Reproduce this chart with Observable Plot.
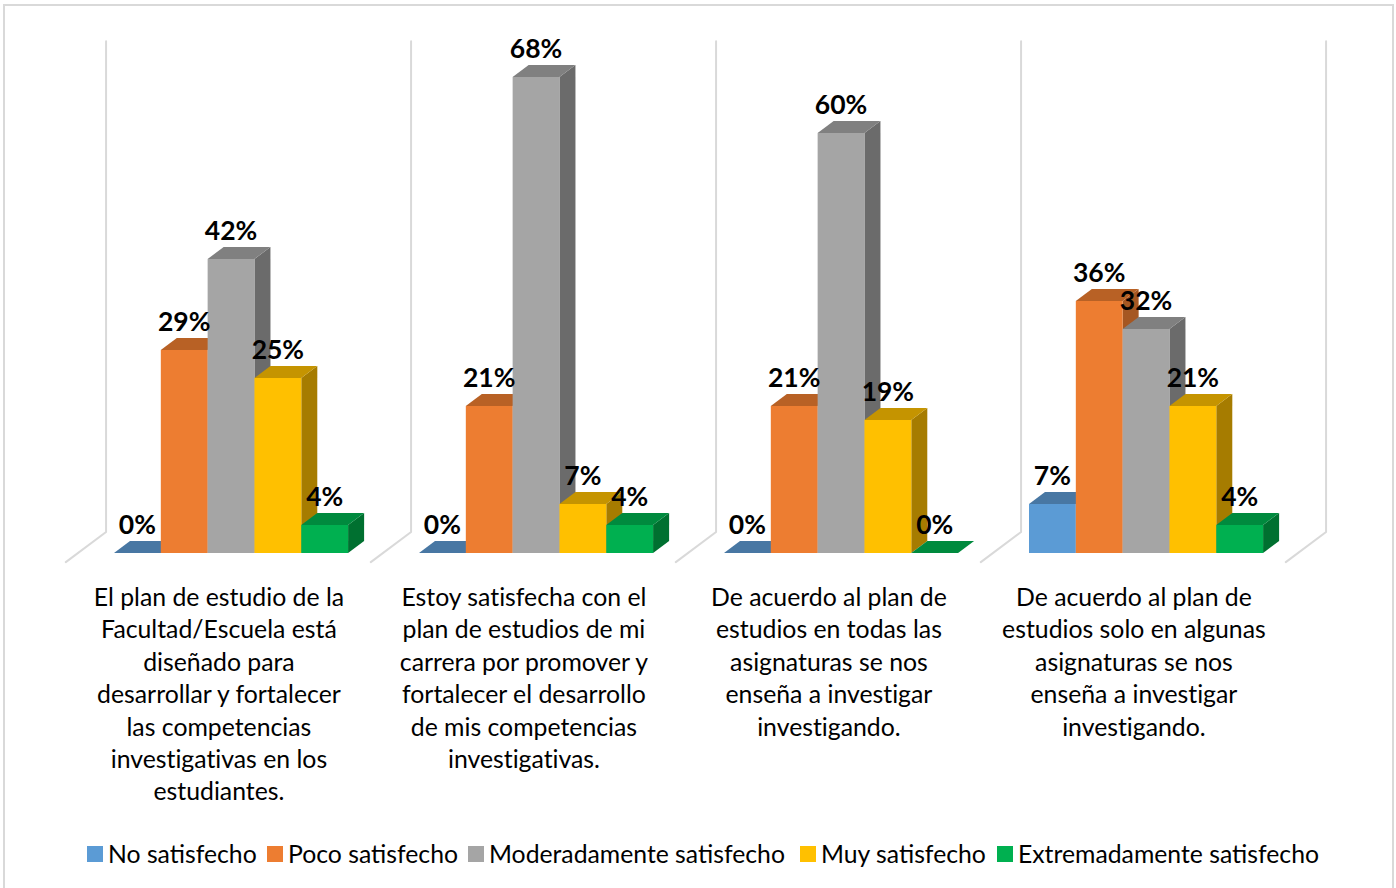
<!DOCTYPE html>
<html lang="es">
<head>
<meta charset="utf-8">
<script src="https://cdn.jsdelivr.net/npm/d3@7"></script>
<script src="https://cdn.jsdelivr.net/npm/@observablehq/plot@0.6"></script>
<style>
  html, body { margin: 0; padding: 0; background: #fff; }
  #frame { position: relative; width: 1396px; height: 888px; overflow: hidden; font-variant-ligatures: none; }
  #border { position: absolute; left: 3px; top: 4px; width: 1387px; height: 900px; border: 2px solid #d9d9d9; }
  #chart { position: absolute; left: 0; top: 0; }
  #chart text { font-variant-ligatures: none; }
  #legend { position: absolute; left: 0; top: 838px; width: 1396px; height: 32px; font: 400 24.75px Lato, sans-serif; color: #000; }
  #legend span.k { position: absolute; top: 8px; width: 16px; height: 16px; }
  #legend span.t { position: absolute; top: 0; line-height: 32px; white-space: nowrap; }
</style>
</head>
<body>
<div id="frame"><div id="border"></div><div id="chart"></div><div id="legend"></div></div>
<script>
const categories = [
  "El plan de estudio de la\nFacultad/Escuela está\ndiseñado para\ndesarrollar y fortalecer\nlas competencias\ninvestigativas en los\nestudiantes.",
  "Estoy satisfecha con el\nplan de estudios de mi\ncarrera por promover y\nfortalecer el desarrollo\nde mis competencias\ninvestigativas.",
  "De acuerdo al plan de\nestudios en todas las\nasignaturas se nos\nenseña a investigar\ninvestigando.",
  "De acuerdo al plan de\nestudios solo en algunas\nasignaturas se nos\nenseña a investigar\ninvestigando."
];
const seriesNames = ["No satisfecho", "Poco satisfecho", "Moderadamente satisfecho", "Muy satisfecho", "Extremadamente satisfecho"];
const noSatisfecho = [0, 0, 0, 7];
const pocoSatisfecho = [29, 21, 21, 36];
const moderadamenteSatisfecho = [42, 68, 60, 32];
const muySatisfecho = [25, 7, 19, 21];
const extremadamenteSatisfecho = [4, 4, 0, 4];
const seriesValues = [noSatisfecho, pocoSatisfecho, moderadamenteSatisfecho, muySatisfecho, extremadamenteSatisfecho];
const frontColors = ["#5b9bd5", "#ed7d31", "#a5a5a5", "#ffc000", "#00b050"];
const topColors = ["#4877a3", "#b86125", "#808080", "#c59400", "#008a3e"];
const sideColors = ["#3f6a92", "#a55722", "#6b6b6b", "#a67c00", "#007030"];

// Group spacing is one x unit; depth and bar width are expressed in data units.
const barW = 0.1535, depthX = 0.0525, depthY = 1.72;

const faces = [];
const labels = [];
categories.forEach((_, g) => {
  seriesNames.forEach((name, s) => {
    const v = seriesValues[s][g];
    const x0 = g + s * barW, x1 = x0 + barW;
    const push = (id, color, pts) => pts.forEach(([x, y]) => faces.push({id: `${g}-${s}-${id}`, color, x, y}));
    if (v > 0) push("side", sideColors[s], [[x1, 0], [x1 + depthX, depthY], [x1 + depthX, v + depthY], [x1, v]]);
    push("top", topColors[s], [[x0, v], [x1, v], [x1 + depthX, v + depthY], [x0 + depthX, v + depthY]]);
    if (v > 0) push("front", frontColors[s], [[x0, 0], [x1, 0], [x1, v], [x0, v]]);
    labels.push({x: x0 + barW / 2, y: v, text: `${v}%`});
  });
});

const wallRows = [0, 1, 2, 3, 4].flatMap(w => [
  {w, x: w - 0.026, y: 73.1},
  {w, x: w - 0.026, y: 3},
  {w, x: w - 0.158, y: -1.3}
]);
const captionRows = categories.map((text, g) => ({x: g + 0.344, y: 0, text}));

const plot = Plot.plot({
  width: 1396, height: 830,
  margin: 0,
  x: {axis: null, domain: [0, 4], range: [113.5, 1333.5]},
  y: {axis: null, domain: [0, 75], range: [552.5, 27.5]},
  color: {type: "identity"},
  style: {background: "transparent"},
  marks: [
    Plot.line(wallRows, {x: "x", y: "y", z: "w", stroke: "#d9d9d9", strokeWidth: 2}),
    Plot.line(faces, {x: "x", y: "y", z: "id", fill: "color", stroke: "none"}),
    Plot.text(labels, {x: "x", y: "y", text: "text", dy: -27.5, fontFamily: "Lato, sans-serif", fontWeight: 700, fontSize: 26.5, fill: "#000"}),
    Plot.text(captionRows, {x: "x", y: "y", text: "text", dy: 29.5, lineAnchor: "top", lineHeight: 1.31, fontFamily: "Lato, sans-serif", fontSize: 24.8, fill: "#000"})
  ]
});
document.getElementById("chart").append(plot);

const keyLefts = [87, 267, 468, 800, 997];
const legend = document.getElementById("legend");
seriesNames.forEach((name, s) => {
  const k = document.createElement("span");
  k.className = "k"; k.style.left = keyLefts[s] + "px"; k.style.background = frontColors[s];
  const t = document.createElement("span");
  t.className = "t"; t.style.left = (keyLefts[s] + 21) + "px"; t.textContent = name;
  legend.append(k, t);
});
</script>
</body>
</html>
